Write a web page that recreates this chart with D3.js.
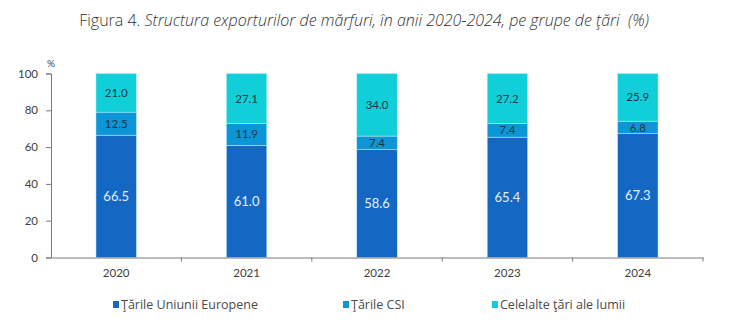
<!DOCTYPE html>
<html>
<head>
<meta charset="utf-8">
<script src="https://cdn.jsdelivr.net/npm/d3@7"></script>
<style>
  body { margin: 0; background: #fff; }
  svg { font-family: Lato, "Open Sans", sans-serif; }
</style>
</head>
<body>
<div class="visHolder"></div>
<script>
const years = ['2020', '2021', '2022', '2023', '2024'];
const euShare = [66.5, 61.0, 58.6, 65.4, 67.3];
const csiShare = [12.5, 11.9, 7.4, 7.4, 6.8];
const otherShare = [21.0, 27.1, 34.0, 27.2, 25.9];
const seriesNames = ['Ţările Uniunii Europene', 'Ţările CSI', 'Celelalte ţări ale lumii'];
const yTicks = [0, 20, 40, 60, 80, 100];

const w = 740, h = 328;
const colors = ['#1468c4', '#0c96d8', '#10cfd9'];
const labelColors = ['#e6f0fb', '#163846', '#163846'];

// rows for the stack
const table = years.map((y, i) => ({year: y, eu: euShare[i], csi: csiShare[i], other: otherShare[i]}));
const keys = ['eu', 'csi', 'other'];
const stacked = d3.stack().keys(keys)(table);

const svg = d3.select('.visHolder')
  .append('svg')
  .attr('width', w)
  .attr('height', h);

// title, first part upright, rest italic
const title = svg.append('text')
  .attr('x', 364)
  .attr('y', 26)
  .attr('text-anchor', 'middle')
  .style('font-family', '"Open Sans", sans-serif')
  .style('font-weight', 300)
  .style('font-size', '16px')
  .style('fill', '#333');
title.append('tspan').text('Figura 4. ');
title.append('tspan').style('font-style', 'italic').text('Structura exporturilor de mărfuri, în anii 2020-2024, pe grupe de ţări\u00a0\u00a0(%)');

const xScale = d3.scaleBand()
  .domain(years)
  .range([51, 703]);
const barW = xScale.bandwidth() * 0.31;

const yScale = d3.scaleLinear()
  .domain([0, 100])
  .range([257.5, 73.5]);

const yAxis = d3.axisLeft(yScale).tickValues(yTicks).tickSize(5).tickPadding(8);
const gy = svg.append('g')
  .attr('id', 'y-axis')
  .attr('transform', 'translate(51, 0)')
  .call(yAxis);
gy.select('.domain').attr('stroke', '#7a7a7a');
gy.selectAll('.tick line').attr('stroke', '#7a7a7a');
gy.selectAll('.tick text').style('font-size', '11.5px').style('fill', '#404040').style('font-family', 'Lato, sans-serif');

svg.append('text')
  .attr('x', 51)
  .attr('y', 67)
  .attr('text-anchor', 'middle')
  .style('font-size', '10px')
  .style('fill', '#404040')
  .text('%');

// stacked bars
const groups = svg.selectAll('g.series')
  .data(stacked)
  .enter()
  .append('g')
  .attr('class', 'series')
  .attr('fill', (d, i) => colors[i]);

groups.selectAll('rect')
  .data(d => d)
  .enter()
  .append('rect')
  .attr('x', d => xScale(d.data.year) + (xScale.bandwidth() - barW) / 2)
  .attr('y', d => yScale(d[1]))
  .attr('width', barW)
  .attr('height', d => yScale(d[0]) - yScale(d[1]))
  .attr('stroke', '#bfeef5')
  .attr('stroke-width', 0.5);

// value labels
stacked.forEach((s, i) => {
  svg.selectAll('text.lbl' + i)
    .data(s)
    .enter()
    .append('text')
    .attr('class', 'lbl' + i)
    .attr('x', d => xScale(d.data.year) + xScale.bandwidth() / 2)
    .attr('y', d => yScale((d[0] + d[1]) / 2))
    .attr('dy', '0.36em')
    .attr('text-anchor', 'middle')
    .style('font-size', i === 0 ? '13px' : '11.5px')
    .style('fill', labelColors[i])
    .text(d => d3.format('.1f')(d[1] - d[0]));
});

// x axis: ticks between categories
const xAxis = d3.axisBottom(xScale).tickSize(0).tickPadding(11);
const gx = svg.append('g')
  .attr('id', 'x-axis')
  .attr('transform', 'translate(0, 257.5)')
  .call(xAxis);
gx.select('.domain').attr('stroke', '#7a7a7a');
gx.selectAll('.tick text').style('font-size', '11.5px').style('fill', '#404040').style('font-family', 'Lato, sans-serif');
gx.selectAll('line.sep')
  .data(years)
  .enter()
  .append('line')
  .attr('class', 'sep')
  .attr('x1', d => xScale(d) + xScale.bandwidth())
  .attr('x2', d => xScale(d) + xScale.bandwidth())
  .attr('y1', 0)
  .attr('y2', 4)
  .attr('stroke', '#7a7a7a');

// legend
const legendX = [113, 343, 492];
const legend = svg.append('g').attr('id', 'legend')
  .selectAll('g')
  .data(seriesNames)
  .enter()
  .append('g')
  .attr('transform', (d, i) => `translate(${legendX[i]}, 305)`);
legend.append('rect')
  .attr('x', 0)
  .attr('y', -4)
  .attr('width', 6)
  .attr('height', 7)
  .style('fill', (d, i) => colors[i]);
legend.append('text')
  .attr('x', 8)
  .attr('y', 0)
  .attr('dy', '0.35em')
  .style('font-family', '"Open Sans", sans-serif')
  .style('font-size', '12.5px')
  .style('fill', '#4a4a4a')
  .text(d => d);
</script>
</body>
</html>
